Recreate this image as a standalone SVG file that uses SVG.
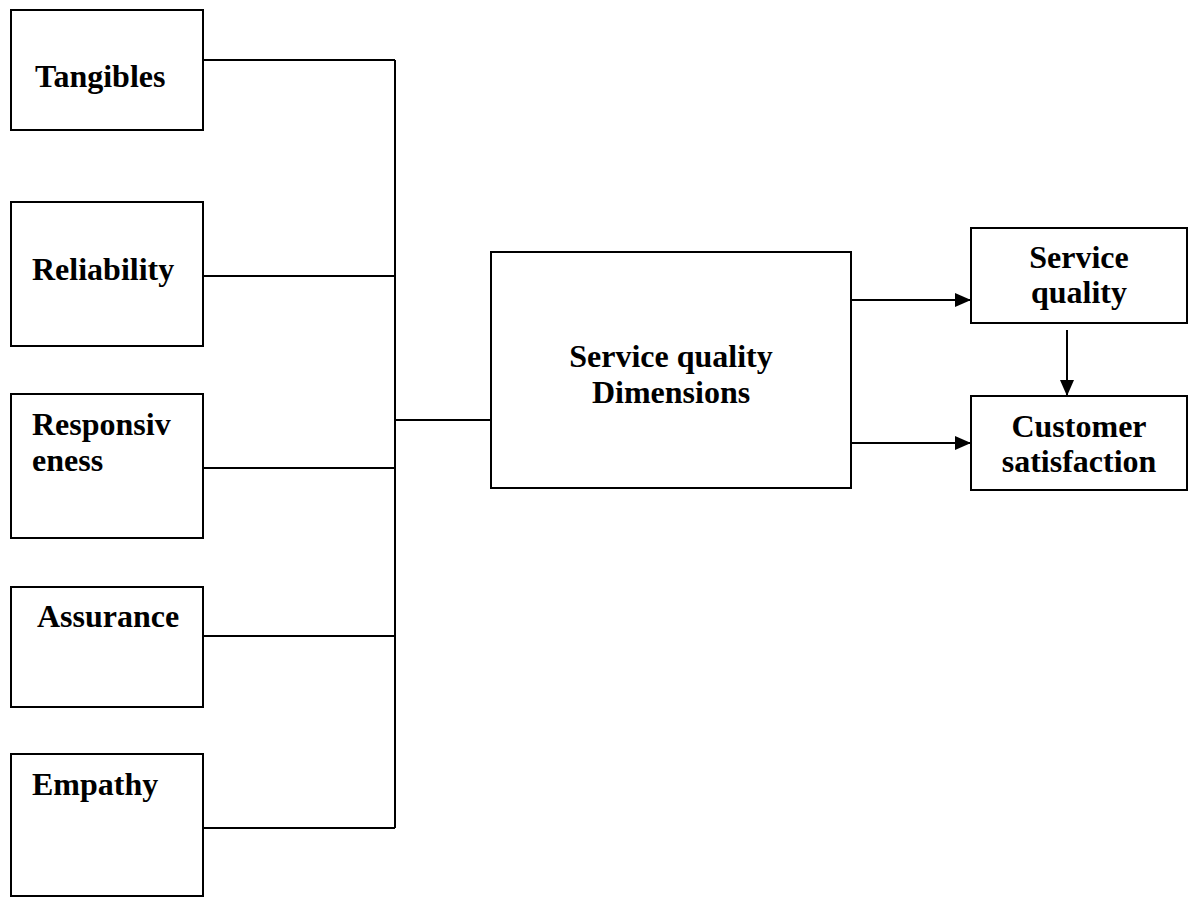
<svg xmlns="http://www.w3.org/2000/svg" width="1194" height="898" viewBox="0 0 1194 898">
<style>
.box{fill:#fff;stroke:#000;stroke-width:2}
.t{font-family:"Liberation Serif","Times New Roman",serif;font-weight:bold;font-size:32px;fill:#000}
.m{text-anchor:middle}
.c{fill:none;stroke:#000;stroke-width:2}
</style>
<defs>
<marker id="ah" markerWidth="16" markerHeight="14" refX="16" refY="7" orient="auto" markerUnits="userSpaceOnUse">
<path d="M0,0 L16,7 L0,14 Z" fill="#000"/>
</marker>
</defs>
<rect width="1194" height="898" fill="#fff"/>
<g id="connectors">
<path class="c" d="M203,60 H395 M203,276 H395 M203,468 H395 M203,636 H395 M203,828 H395 M395,60 V828 M395,420 H491"/>
<path class="c" d="M851,300 H971" marker-end="url(#ah)"/>
<path class="c" d="M851,443 H971" marker-end="url(#ah)"/>
<path class="c" d="M1067,330 V396" marker-end="url(#ah)"/>
</g>
<g id="tangibles"><rect class="box" x="11" y="10" width="192" height="120"/><text class="t" x="35" y="87">Tangibles</text></g>
<g id="reliability"><rect class="box" x="11" y="202" width="192" height="144"/><text class="t" x="32" y="280">Reliability</text></g>
<g id="responsiveness"><rect class="box" x="11" y="394" width="192" height="144"/><text class="t" x="32" y="435">Responsiv</text><text class="t" x="32" y="471">eness</text></g>
<g id="assurance"><rect class="box" x="11" y="587" width="192" height="120"/><text class="t" x="37" y="627">Assurance</text></g>
<g id="empathy"><rect class="box" x="11" y="754" width="192" height="142"/><text class="t" x="32" y="795">Empathy</text></g>
<g id="dimensions"><rect class="box" x="491" y="252" width="360" height="236"/><text class="t m" x="671" y="367">Service quality</text><text class="t m" x="671" y="403">Dimensions</text></g>
<g id="service-quality"><rect class="box" x="971" y="228" width="216" height="95"/><text class="t m" x="1079" y="268">Service</text><text class="t m" x="1079" y="303">quality</text></g>
<g id="customer-satisfaction"><rect class="box" x="971" y="396" width="216" height="94"/><text class="t m" x="1079" y="437">Customer</text><text class="t m" x="1079" y="472">satisfaction</text></g>
</svg>
